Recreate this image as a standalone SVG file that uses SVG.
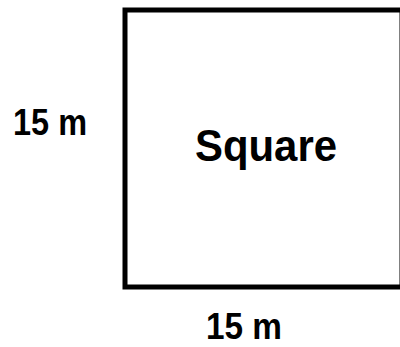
<svg xmlns="http://www.w3.org/2000/svg" width="400" height="347" viewBox="0 0 400 347">
<style>
.lbl{font-family:"Liberation Sans",Arial,sans-serif;font-weight:bold;fill:#000}
</style>
<rect width="400" height="347" fill="#fff"/>
<g id="square">
<rect x="125" y="10" width="277" height="277" fill="none" stroke="#000" stroke-width="5"/>
<text class="lbl" x="195" y="161" font-size="44" textLength="142" lengthAdjust="spacingAndGlyphs">Square</text>
</g>
<g id="left-label">
<text class="lbl" x="13" y="135" font-size="36" textLength="74" lengthAdjust="spacingAndGlyphs">15 m</text>
</g>
<g id="bottom-label">
<text class="lbl" x="206" y="339" font-size="36" textLength="76" lengthAdjust="spacingAndGlyphs">15 m</text>
</g>
<g id="connectors"></g>
</svg>
